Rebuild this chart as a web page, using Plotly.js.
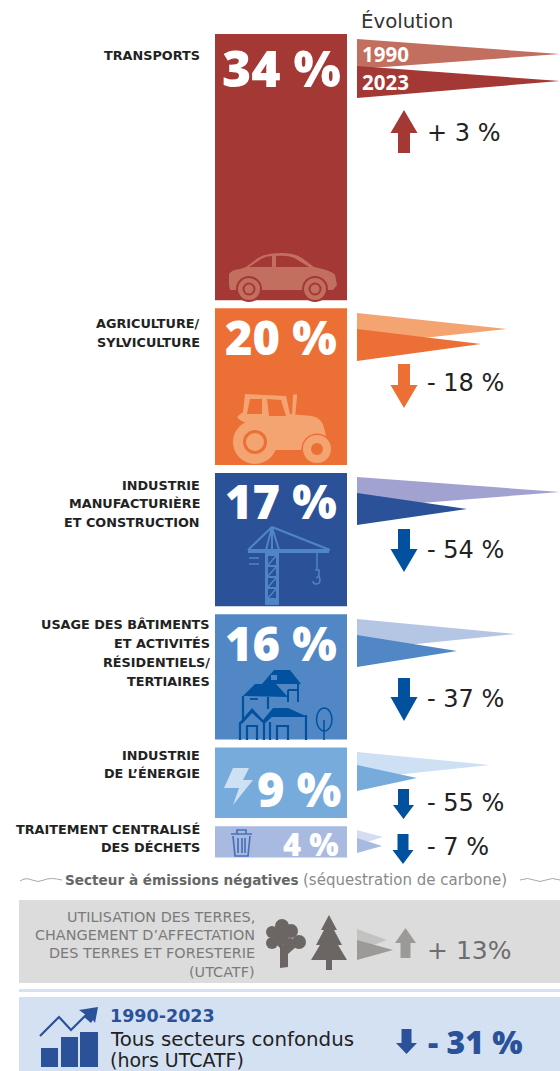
<!DOCTYPE html>
<html><head><meta charset="utf-8">
<script src="https://cdn.plot.ly/plotly-3.0.1.min.js"></script>
<style>html,body{margin:0;padding:0;background:#fff;overflow:hidden}#c{width:560px;height:1071px}</style>
</head><body><div id="c"></div>
<script>
// ---- data
const sectorKeys = ['transports','agriculture','industrie','batiments','energie','dechets','utcatf'];
const shares = [34, 20, 17, 16, 9, 4];
const shareLabels = ['34 %','20 %','17 %','16 %','9 %','4 %'];
const emissions1990 = [203, 150, 203, 158, 133, 26, 30];
const emissions2023 = [203, 124, 110, 100, 60, 25, 36];
const changes = ['+ 3 %','- 18 %','- 54 %','- 37 %','- 55 %','- 7 %','+ 13%'];
const sectorLines = [
  ['TRANSPORTS'],
  ['AGRICULTURE/','SYLVICULTURE'],
  ['INDUSTRIE','MANUFACTURIÈRE','ET CONSTRUCTION'],
  ['USAGE DES BÂTIMENTS','ET ACTIVITÉS','RÉSIDENTIELS/','TERTIAIRES'],
  ['INDUSTRIE','DE L’ÉNERGIE'],
  ['TRAITEMENT CENTRALISÉ','DES DÉCHETS']
];
const utcatfLines = ['UTILISATION DES TERRES,','CHANGEMENT D’AFFECTATION','DES TERRES ET FORESTERIE','(UTCATF)'];
const totalChange = '- 31 %';

// ---- layout constants
const PX_PER_PCT = 7.83, BAR_TOP = 34, BAR_GAP = 8.1, BAR_L = 215, BAR_W = 132;
const barColors = ['#A43834','#EC7035','#2B5299','#5287C5','#77ABDC','#A8BADF','#9C9A99'];
const lightColors = ['#C26F60','#F4A470','#A2A2D0','#B5C6E5','#CEE0F3','#D5DEF0','#C4C2C1'];
const arrowColors = ['#A43834','#EC7035','#01519F','#01519F','#01519F','#01519F','#9C9A99'];
const TRI_X = 357;
const tri1990 = [[39,54,69],[313,329,345],[477,492,508],[619,634,650],[752,765,779],[830,837,845],[929,940,951]];
const tri2023 = [[66,81,98],[329,344,361],[493,509,525],[635,651,667],[765,778,791],[838,846,853],[940,950,960]];
const arrowGeo = [ // dir, cx, headHalf, shaftHalf, start, headBase, tip
  [-1,404,13.5,6,153,133,110],[1,404,13.5,6,364,385,408],[1,404,13.5,6,529,549,572],
  [1,404,13.5,6,678,697,721],[1,403.5,10.5,5.5,789,805,819],[1,403,10.5,5.5,834,850,864],
  [-1,405.5,10.5,5,958,943,928]];
const labelYs = [[55],[323,342],[485,503,522],[624,643,662,681],[755,773],[829,847]];
const labelRight = [202,202,202,212,202,202];
const pctPos = [[281,68,50],[281,337,47],[281,501,47],[281,643,47],[299,789,47],[311,844,31]];
const changeY = [133,383,550,699,803,847,950];

// ---- traces
const tops = []; let yy = BAR_TOP;
shares.forEach(s => { tops.push(yy); yy += s*PX_PER_PCT + BAR_GAP; });
const traces = [{
  type:'bar', x:shares.map(()=>BAR_L+BAR_W/2), width:BAR_W, base:tops,
  y:shares.map(s=>s*PX_PER_PCT), marker:{color:barColors.slice(0,6), line:{width:0}}
}];
function tri(len, g, color){
  return {type:'scatter', mode:'lines', x:[TRI_X,TRI_X+len,TRI_X,TRI_X], y:[g[0],g[1],g[2],g[0]],
          fill:'toself', fillcolor:color, line:{width:0,color:color}};
}
sectorKeys.forEach((k,i)=>{
  traces.push(tri(emissions1990[i],tri1990[i],lightColors[i]));
  traces.push(tri(emissions2023[i],tri2023[i],barColors[i]));
});

// ---- shapes
const S = [];
const base = {xref:'x',yref:'y'};
const rect=(x0,y0,x1,y1,c,layer)=>S.push({...base,type:'rect',x0,y0,x1,y1,fillcolor:c,line:{width:0},layer:layer||'above'});
const path=(d,c)=>S.push({...base,type:'path',path:d,fillcolor:c,line:{width:0}});
const stroke=(d,c,w)=>S.push({...base,type:'path',path:d,line:{color:c,width:w}});
const circ=(cx,cy,r,c)=>S.push({...base,type:'circle',x0:cx-r,x1:cx+r,y0:cy-r,y1:cy+r,fillcolor:c,line:{width:0}});
rect(19,900,560,983,'#DCDCDC','below');
rect(19,989,560,992,'#D6E2F3','below');
rect(19,997,560,1071,'#D4E1F3','below');

function arrow(a,c){
  const [d,x,h,s,st,b,t]=a;
  path(`M${x-s} ${st}L${x+s} ${st}L${x+s} ${b}L${x+h} ${b}L${x} ${t}L${x-h} ${b}L${x-s} ${b}Z`,c);
}
arrowGeo.forEach((a,i)=>arrow(a,arrowColors[i]));
arrow([1,406.5,10.5,5,1029,1043,1054],'#2B5299');

// car
let L=lightColors[0],B=barColors[0];
path('M229 285L229 274Q231 270 240 269L246 267L258 258Q266 253 282 253Q294 253 302 258L314 267Q331 270 335 275L337 285L333 290L230 290Z',L);
path('M249 267L261 259Q266 256 272 256L272 267Z',B);
path('M276 256Q289 255 296 259L309 267L276 267Z',B);
[249,315].forEach(x=>{circ(x,289,13,B);circ(x,289,11,L);circ(x,289,6.5,B);circ(x,289,4.5,L);});
// tractor
L=lightColors[1];B=barColors[1];
path('M245 394L286 396L290 414L312 416Q322 418 324 428L327 440L300 450L275 450L272 436L240 420L237 417L243 412Z',L);
path('M250 399L262 399L262 414L247 414Z',B);
path('M267 399L281 400L286 416L269 416Z',B);
path('M293 395Q298 393 297 397L295 417L292 417Z',L);
circ(255,442,22,L);circ(255,442,12,B);circ(255,442,9,L);
circ(317,449,15.5,B);circ(317,449,14,L);circ(317,449,6,B);
// crane
const cc='#4F85C4';
stroke('M248 550L272 527L330 550M272 527L272 550M272 527L266 550M272 527L279 550',cc,2);
stroke('M248 551L329 551',cc,4);
rect(265,552,279,605,cc);
for(let y=556;y<600;y+=11){ path(`M268 ${y}L276 ${y}L276 ${y+9}L268 ${y+9}Z`,barColors[2]); stroke(`M268 ${y+9}L276 ${y}`,cc,1.6); }
stroke('M249 558L259 558M249 564L259 564',cc,1.5);
stroke('M317 553L317 570',cc,1.5);
stroke('M315 570L319 570L319 576L316 578M319 576Q322 584 316 584Q313 584 313 581',cc,1.5);
// houses
const hc='#01519F';
path('M262 684L274 670L290 670L301 684Z',hc);
path('M243 696L255 684L276 684L288 697Z',hc);
path('M240 722L252 708L263 720L273 708L288 708L308 717L300 717L272 717L264 724L252 713L242 724Z',hc);
stroke('M264 684L264 690M298 684L298 702M288 690L298 690M288 690L288 702',hc,2);
stroke('M243 696L243 720M268 697L268 709',hc,2.2);
stroke('M240 722L240 740M264 722L264 740M270 722L270 740M306 715L306 740M247 740L247 726L257 726L257 740M277 740L277 726L288 726L288 740',hc,2.2);
path('M271 675L277 675L277 680L271 680Z','#5287C5');
stroke('M250 699L258 699',hc,1.8);
S.push({...base,type:'circle',x0:316.5,x1:332,y0:708,y1:731,line:{color:hc,width:1.5}});
stroke('M324 720L324 740',hc,1.5);
// lightning
path('M233 768L249 768L243 780L253 780L233 805L239 788L224 788Z',lightColors[4]);
// trash
const tc='#4B72B8';
stroke('M231 834L252 834M237 834L237 830L246 830L246 834M233 836L235 856L248 856L250 836M238 838L238 853M242 838L242 853M245 838L245 853',tc,1.7);
// trees
const tg='#6B6664';
[[282,926,7],[272,932,6],[291,931,7],[272,943,6],[281,938,7],[299,942,7],[290,944,6]].forEach(c=>circ(c[0],c[1],c[2],tg));
path('M280 968L280 948L272 940L275 938L283 945L286 930L290 930L287 948L296 942L298 945L288 954L288 967Z',tg);
path('M329 915L337 930L334 930L342 945L338 945L347 960L332 960L332 970L326 970L326 960L311 960L320 945L316 945L324 930L321 930Z',tg);
// wave separators
const wg='#a8a8a8';
stroke('M20 881Q26 877 32 880T44 880T62 880',wg,1);
stroke('M520 880Q528 877 534 880T546 880T560 880',wg,1);
// total icon
const tb='#2B5299';
rect(41,1048,58,1067,tb);rect(61,1037,78,1067,tb);rect(80,1032,98,1067,tb);
stroke('M40 1036L59 1017L71 1030L87 1014',tb,2.2);
path('M98 1007L79 1010L86 1015L84 1017L91 1023L93 1020L95 1023Z',tb);

// ---- annotations
const A=[];
const DJ='"DejaVu Sans", sans-serif', OS='"Open Sans", sans-serif';
function T(x,y,text,size,color,opts){
  const o=opts||{};
  A.push({xref:'x',yref:'y',x,y,text,showarrow:false,xanchor:o.anchor||'left',yanchor:'middle',
    font:{family:o.family||DJ,size,color,weight:o.weight||400}});
}
T(359,21,'Évolution',19.8,'#333');
T(360,54,'1990',20.5,'#fff',{weight:700,family:OS});
T(360,82,'2023',20.5,'#fff',{weight:700,family:OS});
sectorLines.forEach((ls,i)=>ls.forEach((l,j)=>T(labelRight[i],labelYs[i][j],l,12.8,'#222',{anchor:'right',weight:700})));
shareLabels.forEach((t,i)=>{const p=pctPos[i];T(p[0],p[1],t,p[2],'#fff',{anchor:'center',weight:800,family:OS});});
changes.forEach((t,i)=>T(425,changeY[i],t,i===6?25:24,i===6?'#6d6d6d':'#222'));
T(63,880,'Secteur à émissions négatives',13.6,'#666',{weight:700});
T(301,880,'(séquestration de carbone)',15,'#8a8a8a');
[917,935,953,972].forEach((y,i)=>T(257,y,utcatfLines[i],14.4,'#7a7a7a',{anchor:'right'}));
T(108,1016,'1990-2023',17.5,tb,{weight:700});
T(108,1039,'Tous secteurs confondus',19.8,'#222');
T(108,1060,'(hors UTCATF)',19,'#222');
T(426,1041,totalChange,32,tb,{weight:800,family:OS});

Plotly.newPlot('c',traces,{
  width:560,height:1071,margin:{l:0,r:0,t:0,b:0},showlegend:false,hovermode:false,
  paper_bgcolor:'#fff',plot_bgcolor:'#fff',barmode:'overlay',
  xaxis:{range:[0,560],visible:false,fixedrange:true},
  yaxis:{range:[1071,0],visible:false,fixedrange:true},
  shapes:S,annotations:A
},{displayModeBar:false,staticPlot:true});
</script></body></html>
